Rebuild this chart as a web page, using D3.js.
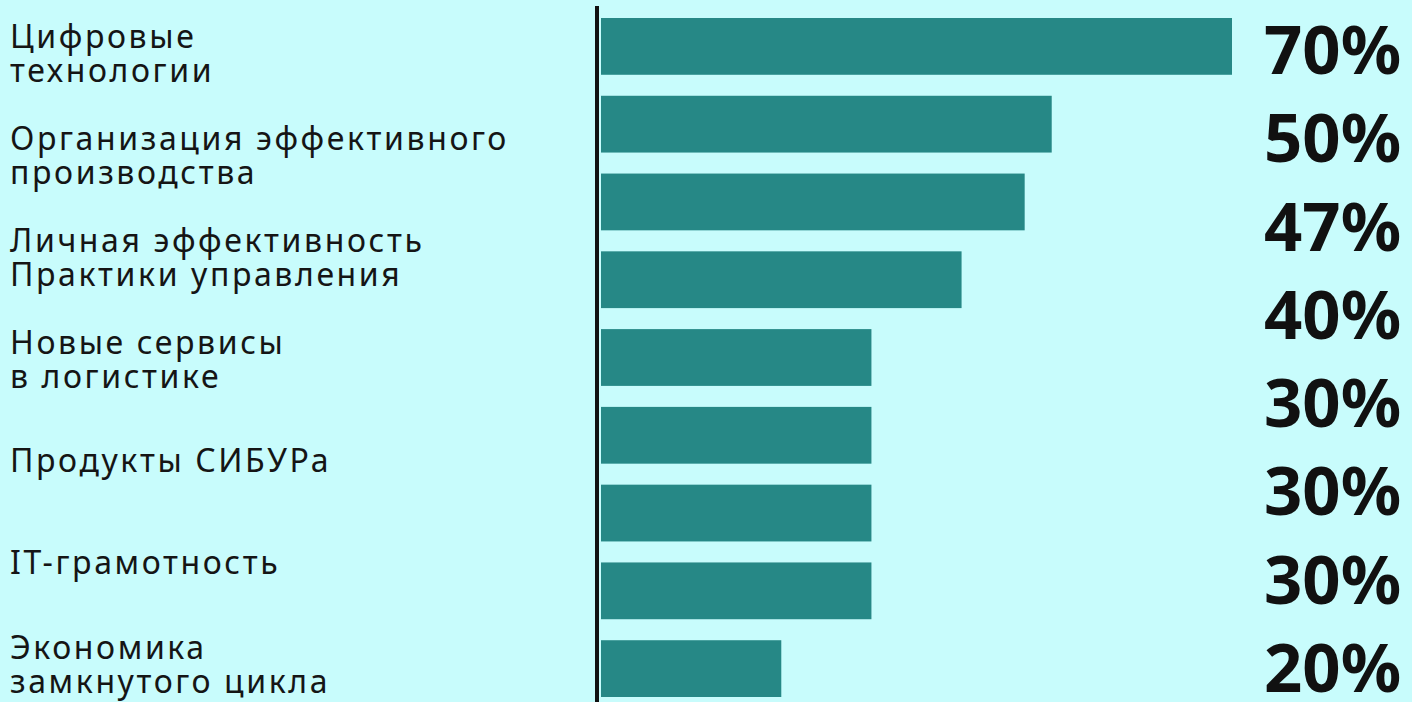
<!DOCTYPE html>
<html>
<head>
<meta charset="utf-8">
<script src="https://cdn.jsdelivr.net/npm/d3@7"></script>
<style>
  html, body { margin: 0; padding: 0; background: #c8fcfc; }
  .cat { font-family: "Noto Sans", sans-serif; font-size: 32px; letter-spacing: 2.6px; fill: #151515; }
  .pct { font-family: "Noto Sans", sans-serif; font-size: 67px; font-weight: 700; fill: #111; }
</style>
</head>
<body>
<div id="chart"></div>
<script>
// left labels, grouped the way they are stacked in the picture
var labelGroups = [
  ["Цифровые", "технологии"],
  ["Организация эффективного", "производства"],
  ["Личная эффективность", "Практики управления"],
  ["Новые сервисы", "в логистике"],
  ["Продукты СИБУРа"],
  ["IT-грамотность"],
  ["Экономика", "замкнутого цикла"]
];
// bars as drawn (nine of them)
var barValues = [70, 50, 47, 40, 30, 30, 30, 30, 20];
// the percentage column on the right
var pctValues = [70, 50, 47, 40, 30, 30, 30, 20];

var width = 1412, height = 702;

var svg = d3.select("#chart").append("svg")
    .attr("width", width)
    .attr("height", height);

svg.append("rect")
    .attr("width", width)
    .attr("height", height)
    .attr("fill", "#c8fcfc");

var x = d3.scaleLinear()
    .domain([0, 70])
    .range([601, 1232]);

var yBar = d3.scaleBand()
    .domain(d3.range(barValues.length))
    .range([18, 697])
    .paddingInner(0.27)
    .paddingOuter(0);

var yLabel = d3.scalePoint()
    .domain(d3.range(labelGroups.length))
    .range([55, 666]);

var yPct = d3.scalePoint()
    .domain(d3.range(pctValues.length))
    .range([74, 692]);

//bars
svg.selectAll(".bar")
    .data(barValues)
    .enter().append("rect")
    .attr("class", "bar")
    .attr("x", x(0))
    .attr("y", function(d, i) { return yBar(i); })
    .attr("width", function(d) { return x(d) - x(0); })
    .attr("height", yBar.bandwidth())
    .attr("fill", "#268886");

//vertical axis line
svg.append("line")
    .attr("x1", 597).attr("x2", 597)
    .attr("y1", 6).attr("y2", height)
    .attr("stroke", "#111")
    .attr("stroke-width", 4);

//category labels
var groups = svg.selectAll(".cat")
    .data(labelGroups)
    .enter().append("text")
    .attr("class", "cat")
    .attr("x", 10)
    .attr("y", function(d, i) { return yLabel(i); });

groups.selectAll("tspan")
    .data(function(d) { return d; })
    .enter().append("tspan")
    .attr("x", 10)
    .attr("dy", function(d, i, nodes) {
        var n = nodes.length;
        return i === 0 ? (-(n - 1) / 2 * 34 + 10) : 34;
    })
    .text(function(d) { return d; });

//percentages
svg.selectAll(".pct")
    .data(pctValues)
    .enter().append("text")
    .attr("class", "pct")
    .attr("x", 1264)
    .attr("y", function(d, i) { return yPct(i); })
    .text(function(d) { return d + "%"; });
</script>
</body>
</html>
